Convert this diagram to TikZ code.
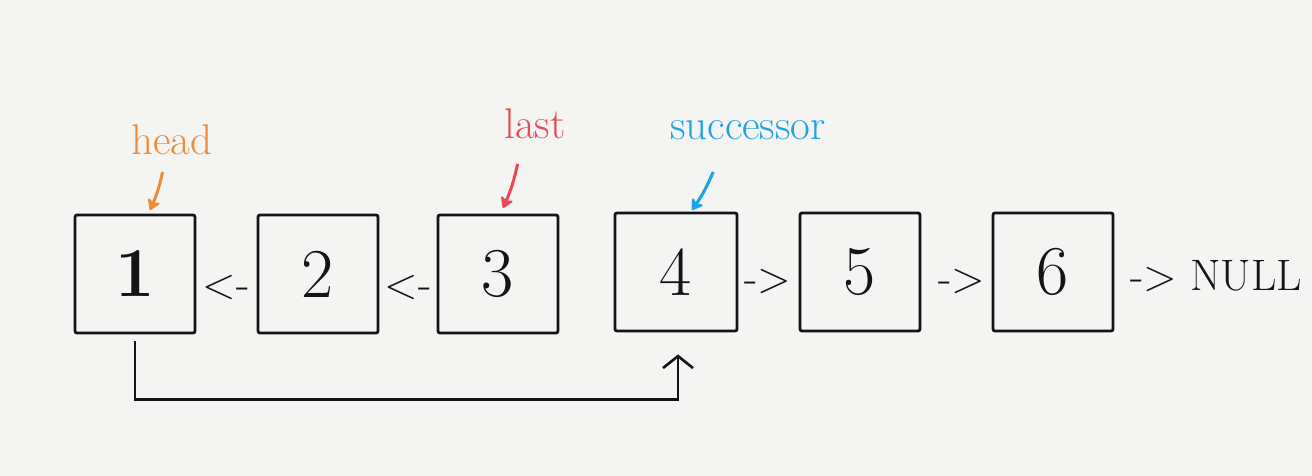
\documentclass[tikz,border=0pt]{standalone}
\usepackage{fontspec}
\usetikzlibrary{arrows.meta}
\definecolor{bg}{RGB}{244,244,242}
\definecolor{headc}{RGB}{236,140,58}
\definecolor{lastc}{RGB}{232,74,84}
\definecolor{succc}{RGB}{28,164,228}
\definecolor{ink}{RGB}{20,20,20}
\begin{document}
\begin{tikzpicture}[x=1pt,y=-1pt,
  box/.style={draw=ink, line width=2.8pt, rounded corners=2pt, minimum width=120pt, minimum height=118pt, inner sep=0pt, text=ink, font=\fontsize{70}{70}\selectfont},
  lbl/.style={inner sep=0pt, text=ink, font=\fontsize{44}{44}\selectfont},
  ptrlbl/.style={inner sep=0pt, font=\fontsize{43}{43}\selectfont},
  ptr/.style={line width=3pt, -{Stealth[round,length=13pt,width=16pt]}, shorten <=2pt},
  link/.style={draw=ink, line width=2.6pt, line join=miter}
]
\fill[bg] (0,0) rectangle (1312,476);
\useasboundingbox (0,0) rectangle (1312,476);

% list nodes
\node[box] (n1) at (135,274) {\bfseries 1};
\node[box] (n2) at (318,274) {2};
\node[box] (n3) at (498,274) {3};
\node[box, minimum width=122pt] (n4) at (676,272) {4};
\node[box] (n5) at (860,272) {5};
\node[box] (n6) at (1053,272) {6};

% link texts
\node[lbl] (a12) at (226,288) {<-};
\node[lbl] (a23) at (408,288) {<-};
\node[lbl] (a45) at (768,282) {->};
\node[lbl] (a56) at (962,282) {->};
\node[lbl, anchor=west] (anull) at (1130,276) {-> NULL};

% pointer labels
\node[ptrlbl, text=headc] (hd) at (172,140) {head};
\node[ptrlbl, text=lastc] (ls) at (535,124) {last};
\node[ptrlbl, text=succc] (sc) at (748,130) {successor};

\coordinate (t1) at (150,210);
\coordinate (t3) at (503,208);
\coordinate (t4) at (692,210);
\draw[ptr, headc] (163,170) to[bend left=6] (t1);
\draw[ptr, lastc] (518,162) to[bend left=6] (t3);
\draw[ptr, succc] (714,170) to[bend left=6] (t4);

% bottom connector
\coordinate (c1) at ([yshift=-65pt]n1.south);
\draw[link, -{Straight Barb[length=12pt,width=30pt,sep=10pt]}]
  ([yshift=-7pt]n1.south) -- (c1) -| ([xshift=2pt,yshift=-12pt]n4.south);
\end{tikzpicture}
\end{document}
